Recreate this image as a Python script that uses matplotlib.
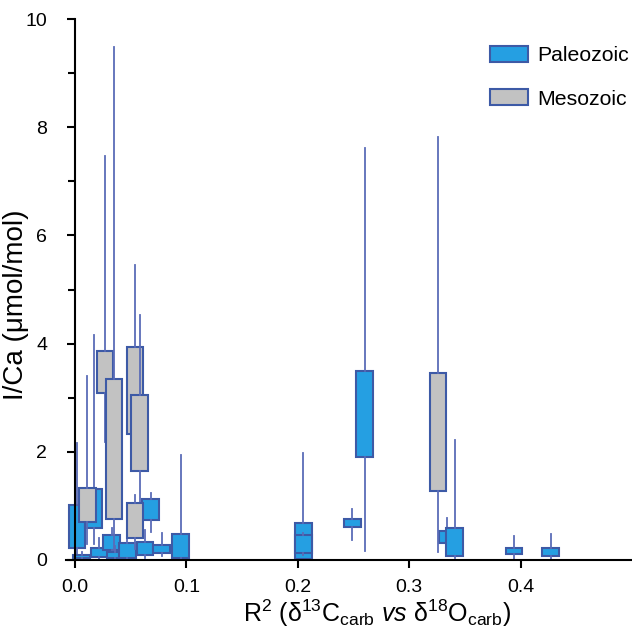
import matplotlib
matplotlib.use("Agg")
import matplotlib.pyplot as plt
from matplotlib.patches import Patch

# Paleozoic boxes: x position, box bottom/top, whisker low/high
paleo_x = [0.002, 0.017, 0.006, 0.022, 0.033, 0.036, 0.047, 0.063, 0.068, 0.078,
           0.095, 0.205, 0.205, 0.249, 0.260, 0.334, 0.341, 0.394, 0.427]
paleo_q1 = [0.22, 0.59, 0.03, 0.06, 0.18, 0.04, 0.04, 0.09, 0.74, 0.13,
            0.04, 0.02, 0.13, 0.61, 1.90, 0.31, 0.07, 0.12, 0.07]
paleo_q3 = [1.02, 1.31, 0.10, 0.22, 0.46, 0.15, 0.31, 0.33, 1.13, 0.28,
            0.48, 0.68, 0.46, 0.76, 3.49, 0.53, 0.59, 0.22, 0.22]
paleo_lo = [0.05, 0.30, 0.01, 0.02, 0.10, 0.02, 0.02, 0.04, 0.52, 0.08,
            0.02, 0.01, 0.10, 0.37, 0.17, 0.25, 0.03, 0.02, 0.02]
paleo_hi = [2.16, 4.16, 0.15, 0.40, 0.60, 0.25, 0.45, 0.55, 1.24, 0.50,
            1.94, 1.97, 0.50, 0.94, 7.62, 0.78, 2.22, 0.44, 0.48]

# Mesozoic boxes
meso_x = [0.011, 0.027, 0.035, 0.054, 0.058, 0.054, 0.326]
meso_q1 = [0.70, 3.09, 0.76, 2.33, 1.65, 0.41, 1.28]
meso_q3 = [1.33, 3.86, 3.35, 3.94, 3.05, 1.05, 3.46]
meso_lo = [0.30, 2.18, 0.19, 2.00, 0.55, 0.20, 0.15]
meso_hi = [3.40, 7.47, 9.48, 5.45, 4.53, 1.20, 7.82]

BLUE = "#259fe2"
GRAY = "#c2c2c2"
EDGE = "#3d5aa6"
WHISK = "#5a6cb8"
BOX_W = 0.015

plt.rcParams["font.family"] = "Liberation Sans"
plt.rcParams["mathtext.fontset"] = "custom"
plt.rcParams["mathtext.rm"] = "Liberation Sans"
plt.rcParams["mathtext.it"] = "Liberation Sans:italic"


def make_stats(xs, q1, q3, lo, hi):
    return [dict(med=a, q1=a, q3=b, whislo=c, whishi=d, fliers=[])
            for a, b, c, d in zip(q1, q3, lo, hi)]


fig = plt.figure(figsize=(6.32, 6.41), dpi=100)
ax = fig.add_axes([66 / 632, 81 / 641, 566 / 632, 541 / 641])

for xs, q1, q3, lo, hi, col in [
        (paleo_x, paleo_q1, paleo_q3, paleo_lo, paleo_hi, BLUE),
        (meso_x, meso_q1, meso_q3, meso_lo, meso_hi, GRAY)]:
    ax.bxp(make_stats(xs, q1, q3, lo, hi), positions=xs, widths=BOX_W,
           patch_artist=True, showcaps=False, showfliers=False,
           boxprops=dict(facecolor=col, edgecolor=EDGE, linewidth=1.5),
           whiskerprops=dict(color=WHISK, linewidth=1.3),
           medianprops=dict(visible=False), manage_ticks=False)

ax.set_xlim(-0.008, 0.5)
ax.set_ylim(0, 10)
ax.spines["top"].set_visible(False)
ax.spines["right"].set_visible(False)
ax.spines["left"].set_position(("data", 0))
for s in ["left", "bottom"]:
    ax.spines[s].set_linewidth(1.5)

ax.set_xticks([0.0, 0.1, 0.2, 0.3, 0.4])
ax.set_xticklabels(["0.0", "0.1", "0.2", "0.3", "0.4"])
ax.set_yticks([0, 2, 4, 6, 8, 10])
ax.set_yticks([1, 3, 5, 7, 9], minor=True)
ax.tick_params(which="both", direction="out", width=1.5, labelsize=14)
ax.tick_params(which="major", length=6)
ax.tick_params(which="minor", length=5)
ax.tick_params(axis="y", pad=14)
ax.tick_params(axis="x", pad=8)

ax.set_xlabel("R$^{2}$ (δ$^{13}$C$_{\\rm carb}$ $vs$ δ$^{18}$O$_{\\rm carb}$)", fontsize=18)
ax.set_ylabel("I/Ca (μmol/mol)", fontsize=20)
ax.xaxis.set_label_coords(0.55, -0.07)
ax.yaxis.set_label_coords(-0.066, 0.471)

handles = [Patch(facecolor=BLUE, edgecolor=EDGE, linewidth=1.5, label="Paleozoic"),
           Patch(facecolor=GRAY, edgecolor=EDGE, linewidth=1.5, label="Mesozoic")]
ax.legend(handles=handles, loc="upper left", bbox_to_anchor=(0.731, 0.97),
          frameon=False, fontsize=15.3, borderpad=0, handlelength=1.75,
          handleheight=0.8, handletextpad=0.45, labelspacing=1.12)

fig.savefig("out.png", dpi=100)
